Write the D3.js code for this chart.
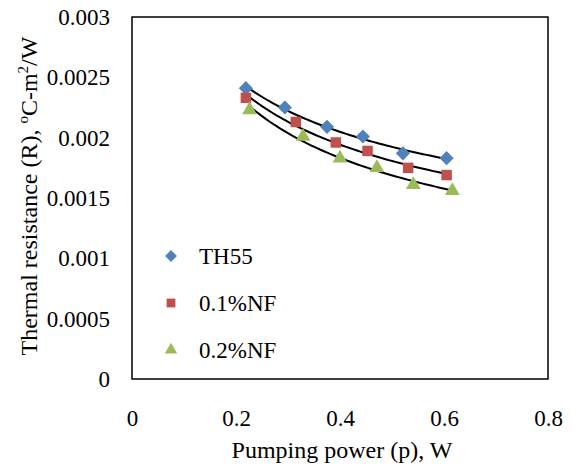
<!DOCTYPE html>
<html><head><meta charset="utf-8">
<script src="https://cdn.jsdelivr.net/npm/d3@7"></script>
<style>body{margin:0;background:#fff}svg{display:block}svg text{font-family:"Liberation Serif","Times New Roman",Tinos,"DejaVu Serif",serif !important;fill:#000}</style>
</head><body>
<script>
const seriesNames = ["TH55", "0.1%NF", "0.2%NF"];
const th55X = [0.219, 0.294, 0.375, 0.444, 0.521, 0.605];
const th55Y = [0.00241, 0.00225, 0.00209, 0.00201, 0.00187, 0.00183];
const nf01X = [0.219, 0.315, 0.392, 0.453, 0.531, 0.605];
const nf01Y = [0.00233, 0.00213, 0.00196, 0.00189, 0.00175, 0.00169];
const nf02X = [0.226, 0.329, 0.400, 0.471, 0.541, 0.616];
const nf02Y = [0.00223, 0.00201, 0.00183, 0.00175, 0.00161, 0.00156];
const xTicks = [0, 0.2, 0.4, 0.6, 0.8];
const yTicks = [0, 0.0005, 0.001, 0.0015, 0.002, 0.0025, 0.003];
const yTickLabels = ["0", "0.0005", "0.001", "0.0015", "0.002", "0.0025", "0.003"];
const colors = ["#4F81BD", "#C0504D", "#9BBB59"];

const FONT = '"Liberation Serif","Times New Roman",serif';
const W = 575, H = 466;
const m = {left: 132, right: 27, top: 17, bottom: 87};
const svg = d3.select("body").append("svg").attr("width", W).attr("height", H);
const x = d3.scaleLinear().domain([0, 0.8]).range([m.left, W - m.right]);
const y = d3.scaleLinear().domain([0, 0.003]).range([H - m.bottom, m.top]);

const series = [
  {name: seriesNames[0], xs: th55X, ys: th55Y, sym: d3.symbolSquare, size: 100, rot: 45},
  {name: seriesNames[1], xs: nf01X, ys: nf01Y, sym: d3.symbolSquare, size: 110, rot: 0},
  {name: seriesNames[2], xs: nf02X, ys: nf02Y, sym: d3.symbolTriangle, size: 95, rot: 0}
];

// axes (labels only, no tick marks)
const xAxis = d3.axisBottom(x).tickValues(xTicks).tickSize(0).tickFormat(d3.format("~g"));
const gx = svg.append("g").attr("transform", `translate(0,${H - m.bottom})`).call(xAxis)
  .attr("font-family", FONT).attr("font-size", 23);
gx.select(".domain").remove();
gx.selectAll("text").attr("y", 47).attr("dy", 0);

const yAxis = d3.axisLeft(y).tickValues(yTicks).tickSize(0).tickPadding(22).tickFormat((d, i) => yTickLabels[i]);
const gy = svg.append("g").attr("transform", `translate(${m.left},0)`).call(yAxis)
  .attr("font-family", FONT).attr("font-size", 23);
gy.select(".domain").remove();

// plot frame
svg.append("rect").attr("x", x(0)).attr("y", y(0.003)).attr("width", x(0.8) - x(0)).attr("height", y(0) - y(0.003))
  .attr("fill", "none").attr("stroke", "#000").attr("stroke-width", 1.5);

// power trendlines (least squares in log-log space)
function powerFit(xs, ys) {
  const lx = xs.map(Math.log), ly = ys.map(Math.log);
  const n = xs.length, mx = d3.mean(lx), my = d3.mean(ly);
  let sxy = 0, sxx = 0;
  for (let i = 0; i < n; i++) { sxy += (lx[i] - mx) * (ly[i] - my); sxx += (lx[i] - mx) ** 2; }
  const b = sxy / sxx, a = Math.exp(my - b * mx);
  return v => a * Math.pow(v, b);
}
const line = d3.line().x(d => x(d[0])).y(d => y(d[1]));
series.forEach(s => {
  const f = powerFit(s.xs, s.ys);
  const x0 = d3.min(s.xs), x1 = d3.max(s.xs);
  const pts = d3.range(0, 61).map(i => { const v = x0 + (x1 - x0) * i / 60; return [v, f(v)]; });
  svg.append("path").attr("d", line(pts)).attr("fill", "none").attr("stroke", "#000").attr("stroke-width", 2);
});

// markers
series.forEach((s, si) => {
  svg.append("g").selectAll("path").data(s.xs.map((v, i) => [v, s.ys[i]])).join("path")
    .attr("d", d3.symbol().type(s.sym).size(s.size))
    .attr("transform", d => `translate(${x(d[0])},${y(d[1])}) rotate(${s.rot})`)
    .attr("fill", colors[si]);
});

// legend
const lg = svg.append("g").attr("font-family", FONT);
series.forEach((s, i) => {
  const ly = 256 + i * 47;
  lg.append("path").attr("d", d3.symbol().type(s.sym).size(s.size * 0.7))
    .attr("transform", `translate(171,${ly}) rotate(${s.rot})`).attr("fill", colors[i]);
  lg.append("text").attr("x", 199).attr("y", ly + 8).attr("font-size", 23).text(s.name);
});

// axis titles
svg.append("text").attr("x", (x(0) + x(0.8)) / 2 + 2).attr("y", 458).attr("text-anchor", "middle")
  .attr("font-family", FONT).attr("font-size", 24).text("Pumping power (p), W");
const yt = svg.append("text").attr("transform", `translate(37,${(y(0) + y(0.003)) / 2 - 2}) rotate(-90)`)
  .attr("text-anchor", "middle").attr("font-family", FONT).attr("font-size", 24);
yt.append("tspan").text("Thermal resistance (R), ");
yt.append("tspan").attr("font-size", 15).attr("dy", -9).text("o");
yt.append("tspan").attr("dy", 9).text("C-m");
yt.append("tspan").attr("font-size", 15).attr("dy", -9).text("2");
yt.append("tspan").attr("dy", 9).text("/W");
</script>
</body></html>
